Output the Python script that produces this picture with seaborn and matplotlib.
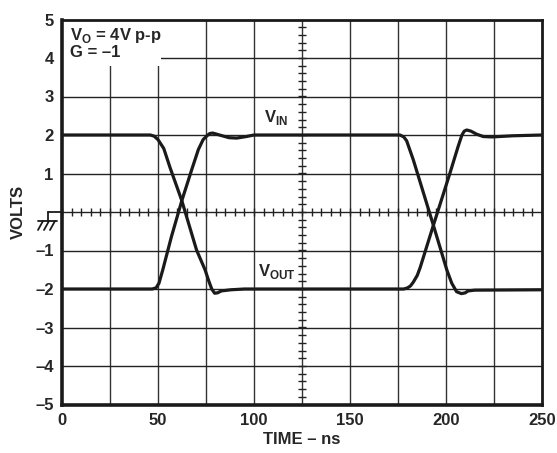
import numpy as np
import pandas as pd
import matplotlib
matplotlib.use('Agg')
import matplotlib.pyplot as plt
import seaborn as sns
from matplotlib.patches import Rectangle
from matplotlib.lines import Line2D

# V_OUT trace, ns / volts
t_out = [0, 46, 48, 50, 53, 56.3, 62.3, 70.1, 74.5, 76.5, 78, 79.5, 81, 83, 88, 95,
         178, 180, 181.5, 183, 185, 186.5, 193.2, 202, 206.3, 208.3, 209.5, 210.8, 213, 216, 219.4, 224, 235, 250]
v_out = [2.0, 2.0, 1.97, 1.88, 1.65, 1.15, 0.31, -0.99, -1.5, -1.8, -2.0, -2.11, -2.1, -2.05, -2.02, -2.0,
         -2.0, -1.97, -1.92, -1.82, -1.65, -1.45, -0.38, 1.0, 1.7, 2.0, 2.1, 2.13, 2.1, 2.02, 1.96, 1.95, 1.98, 2.0]

# V_IN trace
t_in = [0, 47, 49, 50.5, 52.5, 57, 62.5, 67.5, 71, 73.5, 75.5, 77, 78.5, 80, 82, 87, 91, 96, 100,
        176, 178, 179.5, 183, 193.4, 200.4, 203, 205.5, 208, 210, 211.5, 215, 250]
v_in = [-2.0, -2.0, -1.97, -1.85, -1.5, -0.64, 0.31, 1.09, 1.62, 1.88, 1.98, 2.04, 2.05, 2.03, 2.0, 1.93, 1.92, 1.96, 2.0,
        2.0, 1.95, 1.85, 1.35, -0.34, -1.5, -1.85, -2.07, -2.12, -2.1, -2.05, -2.03, -2.02]

x_ticks = [0, 50, 100, 150, 200, 250]
y_ticks = [-5, -4, -3, -2, -1, 0, 1, 2, 3, 4, 5]
y_labels = ['–5', '–4', '–3', '–2', '–1', '', '1', '2', '3', '4', '5']

df = pd.concat([
    pd.DataFrame({'t': t_out, 'v': v_out, 'trace': 'VOUT'}),
    pd.DataFrame({'t': t_in, 'v': v_in, 'trace': 'VIN'}),
])

sns.set_style('white')
plt.rcParams['font.family'] = ['Liberation Sans', 'DejaVu Sans']
plt.rcParams['font.weight'] = 'bold'
plt.rcParams['mathtext.fontset'] = 'custom'
plt.rcParams['mathtext.rm'] = 'Liberation Sans:bold'
plt.rcParams['mathtext.bf'] = 'Liberation Sans:bold'

fig = plt.figure(figsize=(5.57, 4.53), dpi=100)
ax = fig.add_axes([62/557, 48.5/453, 480/557, 385/453])

# grid every 25 ns and every 1 V
for gx in np.arange(25, 250, 25):
    ax.axvline(gx, color='#333333', lw=1.0, zorder=0.5)
for gy in np.arange(-4, 5, 1):
    ax.axhline(gy, color='#222222', lw=1.0, zorder=0.5)

# cross ticks on the centre lines
ax.plot(np.arange(0, 251, 5), np.zeros(51), ls='none', marker='|', ms=6, mew=1.0, color='#222222', zorder=0.6)
ax.plot(np.full(51, 125), np.arange(-5, 5.01, 0.2), ls='none', marker='_', ms=6, mew=1.0, color='#222222', zorder=0.6)

# white box behind the condition text
ax.add_patch(Rectangle((0, 3.8), 51.5, 1.2, facecolor='white', edgecolor='none', zorder=1))

sns.lineplot(data=df, x='t', y='v', hue='trace', palette=['#1a1a1a', '#1a1a1a'],
             sort=False, estimator=None, legend=False, lw=2.3, ax=ax, zorder=3)

ax.set_xlim(0, 250)
ax.set_ylim(-5, 5)
ax.set_xticks(x_ticks)
ax.set_xticklabels([str(x) for x in x_ticks])
ax.set_yticks(y_ticks)
ax.set_yticklabels(y_labels)
ax.tick_params(length=0, labelsize=12, pad=6)
for lab in ax.get_xticklabels() + ax.get_yticklabels():
    lab.set_fontweight('bold')

for side in ['left', 'bottom']:
    ax.spines[side].set_linewidth(2.6)
for side in ['top', 'right']:
    ax.spines[side].set_linewidth(2.0)
for s in ax.spines.values():
    s.set_color('#1a1a1a')
    s.set_zorder(4)

ax.set_xlabel('TIME – ns', fontsize=12, fontweight='bold', labelpad=3)
ax.set_ylabel('VOLTS', fontsize=12, fontweight='bold', labelpad=7)

ax.text(0.017, 0.982, r'V$_{\mathbf{O}}$ = 4V p-p' + '\nG = –1', transform=ax.transAxes,
        fontsize=12, fontweight='bold', va='top', ha='left', linespacing=1.0, zorder=5)
ax.text(105, 2.2, r'V$_{\mathbf{IN}}$', fontsize=12, fontweight='bold', ha='left', va='bottom', zorder=5)
ax.text(102, -1.3, r'V$_{\mathbf{OUT}}$', fontsize=12, fontweight='bold', ha='left', va='top', zorder=5)

# ground symbol at 0 V on the left edge
def px(x, y):
    return x / 557, 1 - y / 453

gnd = [((62, 212), (48, 212)), ((48, 212), (48, 221)), ((38, 221), (57, 221)),
       ((43, 221), (38, 230)), ((49, 221), (44, 230)), ((55, 221), (50, 230))]
for a, b in gnd:
    (x0, y0), (x1, y1) = px(*a), px(*b)
    fig.add_artist(Line2D([x0, x1], [y0, y1], color='#1a1a1a', lw=1.3))

fig.savefig('out.png', dpi=100)
